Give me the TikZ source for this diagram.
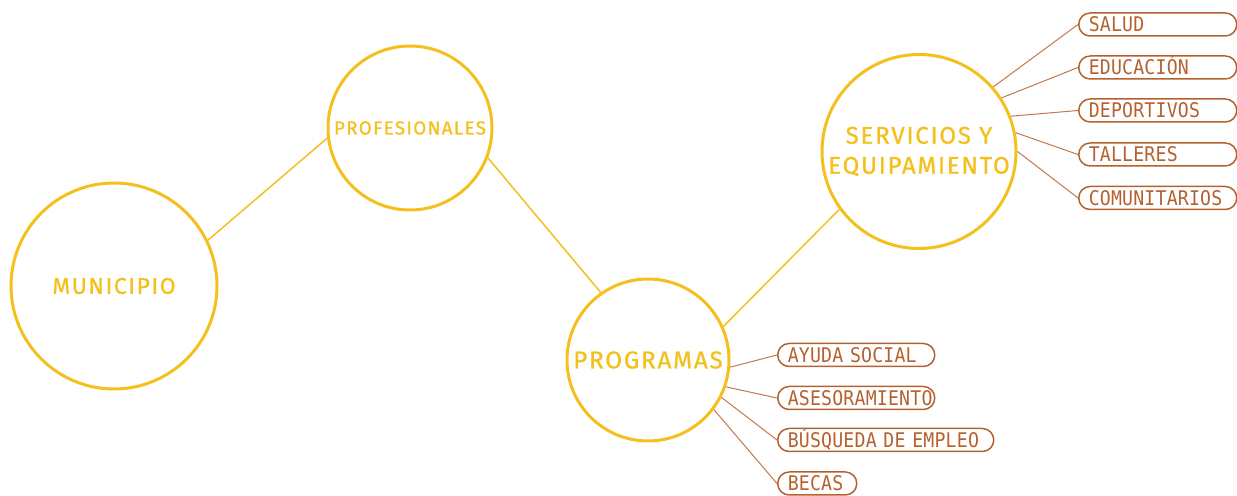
\documentclass[tikz,border=0pt]{standalone}
\usepackage{fontspec}
\newfontfamily\dinfont{Fira Sans}[LetterSpace=7, FakeBold=0.9]
\newfontfamily\monofont{DejaVu Sans Mono}[FakeStretch=0.9, LetterSpace=1]
\definecolor{amarillo}{HTML}{F4C01E}
\definecolor{cafe}{HTML}{B5612F}

\begin{document}
\begin{tikzpicture}[x=0.5pt,y=-0.5pt,
  tema/.style={circle, draw=amarillo, line width=1.5pt, text=amarillo, inner sep=0pt, align=center},
  etiqueta/.style={draw=cafe, line width=0.75pt, rounded corners=5.7pt, minimum height=11.5pt,
    inner xsep=5pt, inner ysep=0pt, text height=7.5pt, text depth=0pt, anchor=west,
    text=cafe, font=\monofont\fontsize{10.1}{12}\selectfont, align=left},
  enlace/.style={amarillo, line width=0.75pt},
  rama/.style={cafe!85, line width=0.5pt}]
 \useasboundingbox (0,0) rectangle (1237,496);

    %Circles
    \node[tema, minimum size=103pt, font=\dinfont\fontsize{11.4}{12}\selectfont] (mun) at (114,286) {MUNICIPIO};
    \node[tema, minimum size=82pt, font=\dinfont\fontsize{9.4}{12}\selectfont] (prof) at (410,128) {PROFESIONALES};
    \node[tema, minimum size=81pt, font=\dinfont\fontsize{12.2}{14}\selectfont] (prog) at (648,360) {PROGRAMAS};
    \node[tema, minimum size=97pt, font=\dinfont\fontsize{12.1}{15}\selectfont] (serv) at (919,151.5) {\raisebox{-1.5pt}{SERVICIOS Y}\\\raisebox{-1.5pt}{EQUIPAMIENTO}};

    \draw[enlace] (mun.26) -- (prof.187);
    \draw[enlace] (prof.-21) -- (prog.125);
    \draw[enlace] (prog.24) -- (serv.216);

    % Servicios
    \node[etiqueta, text width=69pt] (salud) at (1078,24.5) {SALUD};
    \node[etiqueta, text width=69pt] (educ) at (1078,67.5) {EDUCACIÓN};
    \node[etiqueta, text width=69pt] (depor) at (1078,110.5) {DEPORTIVOS};
    \node[etiqueta, text width=69pt] (taller) at (1078,154.5) {TALLERES};
    \node[etiqueta, text width=69pt] (comun) at (1078,198) {COMUNITARIOS};
    \foreach \a/\b in {41/salud, 33/educ, 21/depor, 11/taller, 0/comun}
      \draw[rama] (serv.\a) -- (\b.west);

    % Programas
    \node[etiqueta, text width=68.5pt] (ayuda) at (777,355) {AYUDA SOCIAL};
    \node[etiqueta, text width=68.5pt] (aseso) at (777,398) {ASESORAMIENTO};
    \node[etiqueta, text width=98pt] (empleo) at (777,440) {BÚSQUEDA DE EMPLEO};
    \node[etiqueta, text width=29.5pt] (becas) at (777,483.5) {BECAS};
    \foreach \a/\b in {-5/ayuda, -19/aseso, -27/empleo, -37/becas}
      \draw[rama] (prog.\a) -- (\b.west);
\end{tikzpicture}
\end{document}
